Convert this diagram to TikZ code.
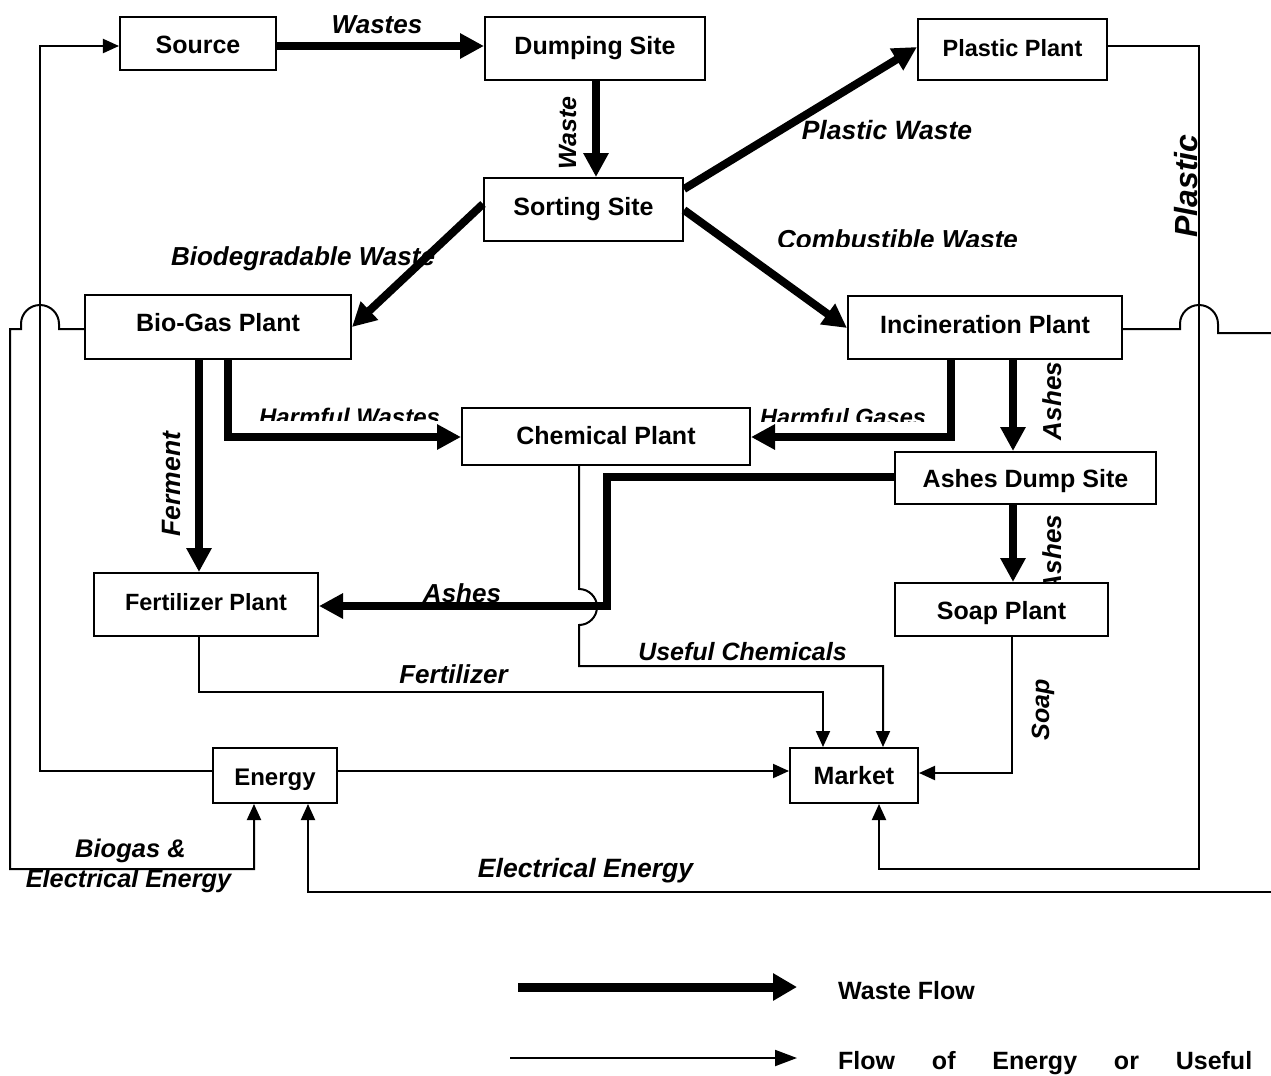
\documentclass[tikz,border=0pt]{standalone}
\usepackage{fontspec}
\setmainfont{Liberation Sans}
\usetikzlibrary{arrows.meta}
\newcommand\setfs[1]{\fontsize{#1bp}{#1bp}\selectfont}

\begin{document}
\begin{tikzpicture}[x=1bp,y=-1bp,
  box/.style={draw, line width=2bp, inner sep=0pt, font=\bfseries\setfs{25},
              text height=20bp, text depth=#1},
  lbl/.style={font=\bfseries\itshape\setfs{26}, inner sep=0pt, anchor=base},
  keytext/.style={font=\bfseries\setfs{25}, inner sep=0pt, anchor=base west},
  wasteflow/.style={line width=8bp, line join=miter, -{Triangle[length=24bp,width=24bp]}},
  useflow/.style={line width=2bp, line join=miter, -{Triangle[length=16bp,width=14bp]}},
]
\fill[white] (0,0) rectangle (1271,1076);
\useasboundingbox (0,0) rectangle (1271,1076);

% ---------- plants and sites ----------
\node[box=0bp,  minimum width=156bp, minimum height=53bp] (src)     at (198,43.5)   {Source};
\node[box=9bp,  minimum width=220bp, minimum height=63bp] (dump)    at (595,48.5)   {Dumping Site};
\node[box=7bp,  minimum width=189bp, minimum height=61bp, font=\bfseries\setfs{23.5}] (plastic) at (1012.5,49.5) {Plastic Plant};
\node[box=9bp,  minimum width=199bp, minimum height=63bp] (sort)    at (583.5,209.5) {Sorting Site};
\node[box=12bp, minimum width=266bp, minimum height=64bp] (biogas)  at (218,327)    {Bio-Gas Plant};
\node[box=9bp,  minimum width=274bp, minimum height=63bp] (incin)   at (985,327.5)  {Incineration Plant};
\node[box=5bp,  minimum width=288bp, minimum height=57bp] (chem)    at (606,436.5)  {Chemical Plant};
\node[box=2bp,  minimum width=261bp, minimum height=52bp] (ashdump) at (1025.5,478) {Ashes Dump Site};
\node[box=9bp,  minimum width=224bp, minimum height=63bp, font=\bfseries\setfs{23.5}] (fert) at (206,604.5) {Fertilizer Plant};
\node[box=0bp,  minimum width=213bp, minimum height=53bp] (soap)    at (1001.5,609.5) {Soap Plant};
\node[box=1bp,  minimum width=124bp, minimum height=55bp, font=\bfseries\setfs{24}] (energy) at (275,775.5) {Energy};
\node[box=3bp,  minimum width=128bp, minimum height=55bp] (market)  at (854,775.5)  {Market};

% ---------- waste flows ----------
\draw[wasteflow] (src.east |- 0,46) -- (dump.west |- 0,46);
\draw[wasteflow] (dump.south -| 596,0) -- (sort.north -| 596,0);
\draw[wasteflow] (sort.east |- 0,189) -- (plastic.west |- 0,47);
\draw[wasteflow] (sort.east |- 0,210) -- (incin.west |- 0,328);
\draw[wasteflow] (sort.west |- 0,204) -- (biogas.east |- 0,327);
\draw[wasteflow] (biogas.south -| 199,0) -- (fert.north -| 199,0);
\draw[wasteflow] (biogas.south -| 228,0) |- (chem.west |- 0,437);
\draw[wasteflow] (incin.south -| 951,0) |- (chem.east |- 0,437);
\draw[wasteflow] (incin.south -| 1013,0) -- (ashdump.north -| 1013,0);
\draw[wasteflow] (ashdump.south -| 1013,0) -- (soap.north -| 1013,0);
\draw[wasteflow] (ashdump.west |- 0,477) -| (607,606) -- (fert.east |- 0,606);

% ---------- flows of energy and useful products ----------
\draw[useflow] (energy.west |- 0,771) -| (40,46) -- (src.west |- 0,46);
\draw[useflow] (energy.east |- 0,771) -- (market.west |- 0,771);
% biogas and electricity back to energy, hopping over the return line
\draw[useflow] (biogas.west |- 0,329) -- (59,329) -- (59,324)
  .. controls (59,313.5) and (50.5,305) .. (40,305)
  .. controls (29.5,305) and (21,313.5) .. (21,324)
  -- (21,329) -- (10,329) -- (10,869) -| (energy.south -| 254,0);
% electrical energy from incineration, hopping over the plastic line
\coordinate (rimtop) at (1271,333);
\coordinate (rimbot) at (1271,892);
\draw[line width=2bp] (incin.east |- 0,329) -- (1180,329) -- (1180,324)
  .. controls (1180,313.5) and (1188.5,305) .. (1199,305)
  .. controls (1209.5,305) and (1218,313.5) .. (1218,324)
  -- (1218,333) -- (rimtop);
\draw[useflow] (rimbot) -| (energy.south -| 308,0);
\draw[useflow] (plastic.east |- 0,46) -| (1199,869) -| (market.south -| 879,0);
\draw[useflow] (soap.south -| 1012,0) |- (market.east |- 0,773);
% useful chemicals, hopping over the ashes line
\draw[useflow] (chem.south -| 579,0) -- (579,589)
  .. controls (588.9,589) and (597,597.1) .. (597,607)
  .. controls (597,616.9) and (588.9,625) .. (579,625)
  -- (579,666) -| (market.north -| 883,0);
\draw[useflow] (fert.south -| 199,0) -- (199,692) -| (market.north -| 823,0);

% ---------- labels ----------
\node[lbl] (lwastes) at (377,33) {Wastes};
\node[lbl, rotate=90, font=\bfseries\itshape\setfs{25}] (lwaste) at (576,133) {Waste};
\node[lbl] (lbiodeg) at (303,265) {Biodegradable Waste};
\node[lbl, font=\bfseries\itshape\setfs{26.5}] (lplw) at (887,139) {Plastic Waste};
\begin{scope}
  \clip (760,215) rectangle (1040,246);
  \node[lbl] (lcomb) at (897.5,248) {Combustible Waste};
\end{scope}
\node[lbl, rotate=90, font=\bfseries\itshape\setfs{32}] (lplastic) at (1197,186) {Plastic};
\begin{scope}
  \clip (250,395) rectangle (455,420);
  \node[lbl, font=\bfseries\itshape\setfs{24}] (lhw) at (349.5,425) {Harmful Wastes};
\end{scope}
\begin{scope}
  \clip (750,395) rectangle (940,421);
  \node[lbl, font=\bfseries\itshape\setfs{23.5}] (lhg) at (843,425) {Harmful Gases};
\end{scope}
\node[lbl, rotate=90, font=\bfseries\itshape\setfs{26.5}] (lferment) at (180,484) {Ferment};
\node[lbl, rotate=90] (lashes1) at (1061,401) {Ashes};
\begin{scope}
  \clip (1030,500) rectangle (1080,583);
  \node[lbl, rotate=90] (lashes2) at (1061,554) {Ashes};
\end{scope}
\node[lbl] (lashes3) at (462,602) {Ashes};
\node[lbl, font=\bfseries\itshape\setfs{25}] (luseful) at (742.5,660) {Useful Chemicals};
\node[lbl] (lfert) at (453.5,683) {Fertilizer};
\node[lbl, rotate=90, font=\bfseries\itshape\setfs{25}] (lsoap) at (1049,710) {Soap};
\node[lbl, font=\bfseries\itshape\setfs{25.5}] (lbio1) at (130.5,857) {Biogas \&};
\node[lbl, font=\bfseries\itshape\setfs{25.3}] (lbio2) at (128.5,887) {Electrical Energy};
\node[lbl, font=\bfseries\itshape\setfs{26.5}] (lelec) at (585.5,877) {Electrical Energy};

% ---------- key ----------
\coordinate (keyw1) at (518,987);
\coordinate (keyw2) at (797,987);
\coordinate (keyu1) at (510,1058);
\coordinate (keyu2) at (797,1058);
\draw[line width=9bp, -{Triangle[length=24bp,width=26bp]}] (keyw1) -- (keyw2);
\draw[useflow, -{Triangle[length=22bp,width=16bp]}] (keyu1) -- (keyu2);
\node[keytext] (kwaste) at (838,999) {Waste Flow};
\node[keytext] (kuse) at (838,1069) {\makebox[414bp][s]{Flow of Energy or Useful}};
\end{tikzpicture}
\end{document}
